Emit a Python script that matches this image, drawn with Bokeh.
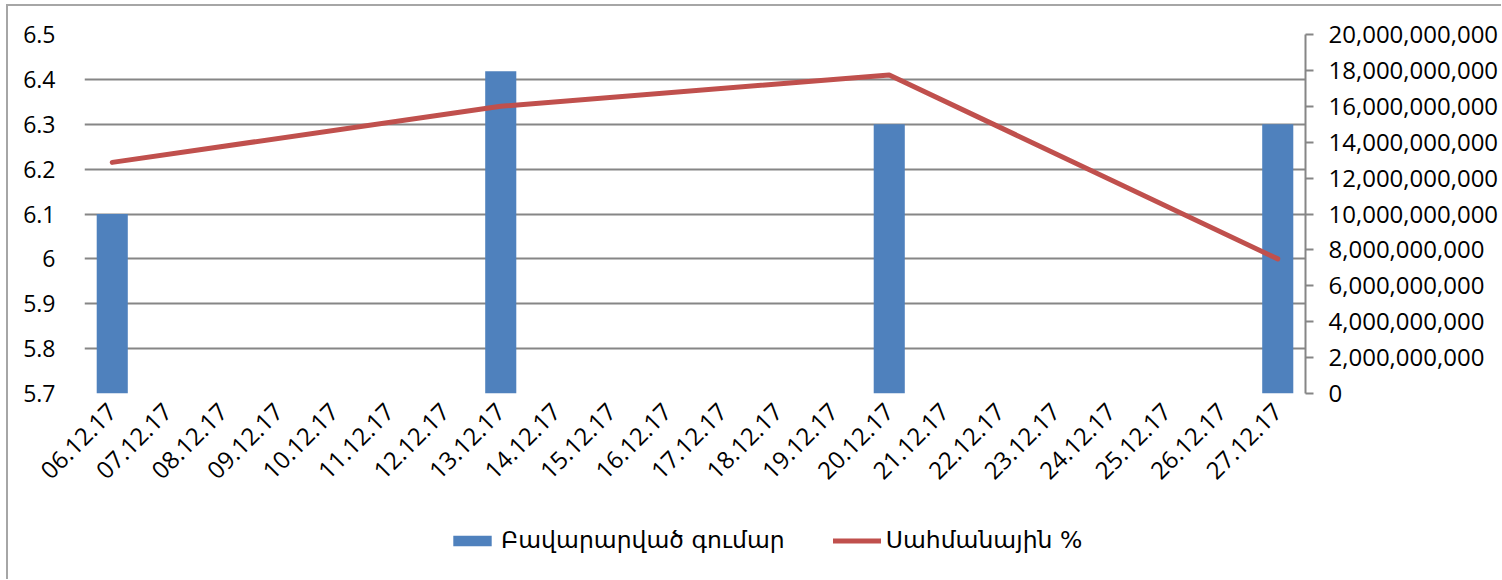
import math
from bokeh.plotting import figure
from bokeh.layouts import column
from bokeh.models import (FactorRange, Range1d, LinearAxis, FixedTicker,
                          NumeralTickFormatter, CustomJSTickFormatter,
                          ColumnDataSource, Legend, LegendItem)
from bokeh.embed import file_html
from bokeh.resources import INLINE

# ---- data ----
dates = ["06.12.17", "07.12.17", "08.12.17", "09.12.17", "10.12.17", "11.12.17",
         "12.12.17", "13.12.17", "14.12.17", "15.12.17", "16.12.17", "17.12.17",
         "18.12.17", "19.12.17", "20.12.17", "21.12.17", "22.12.17", "23.12.17",
         "24.12.17", "25.12.17", "26.12.17", "27.12.17"]
obs_dates = ["06.12.17", "13.12.17", "20.12.17", "27.12.17"]
amounts = [10.0e9, 17.95e9, 15.0e9, 15.0e9]          # Բավարարված գումար (right axis)
rates = [6.215, 6.34, 6.41, 6.0]                    # Սահմանային % (left axis)
left_ticks = [5.7, 5.8, 5.9, 6.0, 6.1, 6.2, 6.3, 6.4, 6.5]
right_ticks = [0, 2e9, 4e9, 6e9, 8e9, 10e9, 12e9, 14e9, 16e9, 18e9, 20e9]
bar_label = "Բավարարված գումար"
line_label = "Սահմանային %"

BLUE = "#4F81BD"
RED = "#C0504D"
GRID = "#868686"
FONT = "Open Sans"
W = 1493

xr = FactorRange(factors=dates)
p = figure(width=W, height=497, output_backend="svg", toolbar_location=None,
           x_range=xr, y_range=Range1d(5.7, 6.5),
           min_border_left=76, min_border_right=196, min_border_top=28,
           min_border_bottom=110)
p.extra_y_ranges = {"amt": Range1d(0, 20e9)}
p.outline_line_color = None
p.background_fill_color = "white"
p.border_fill_color = "white"

src = ColumnDataSource(dict(d=obs_dates, amt=amounts, rate=rates))

bars = p.vbar(x="d", top="amt", bottom=0, width=0.56, source=src,
              y_range_name="amt", fill_color=BLUE, line_color=None)
ln = p.line(x="d", y="rate", source=src, line_color=RED, line_width=5,
            line_cap="round", line_join="round")

# left axis
ya = p.yaxis[0]
ya.ticker = FixedTicker(ticks=left_ticks)
ya.formatter = CustomJSTickFormatter(code="return Number(tick.toFixed(1)).toString();")
ya.axis_line_color = None
ya.major_tick_line_color = None
ya.minor_tick_line_color = None
ya.major_label_text_font = FONT
ya.major_label_text_font_size = "23px"
ya.major_label_text_color = "black"
ya.major_label_standoff = 23

p.ygrid.ticker = FixedTicker(ticks=left_ticks)
p.ygrid.grid_line_color = GRID
p.ygrid.grid_line_width = 2
p.xgrid.grid_line_color = None

# right axis
ra = LinearAxis(y_range_name="amt", ticker=FixedTicker(ticks=right_ticks),
                formatter=NumeralTickFormatter(format="0,0"))
ra.axis_line_color = GRID
ra.axis_line_width = 2
ra.major_tick_line_color = GRID
ra.major_tick_line_width = 2
ra.major_tick_in = 0
ra.major_tick_out = 8
ra.minor_tick_line_color = None
ra.major_label_text_font = FONT
ra.major_label_text_font_size = "24px"
ra.major_label_text_color = "black"
ra.major_label_standoff = 15
p.add_layout(ra, "right")

# x axis
xa = p.xaxis[0]
xa.axis_line_color = None
xa.major_tick_line_color = None
xa.minor_tick_line_color = None
xa.major_label_orientation = math.pi / 4
xa.major_label_text_font = FONT
xa.major_label_text_font_size = "24px"
xa.major_label_text_color = "black"
xa.major_label_standoff = 8

# legend strip (separate figure so the legend is not clipped by the main frame);
# proxies use the same data but sit far outside this strip's visible y-range
p2 = figure(width=W, height=76, output_backend="svg", toolbar_location=None,
            x_range=xr, y_range=Range1d(-1e12, -0.9e12),
            x_axis_location=None, y_axis_location=None, min_border=0)
p2.outline_line_color = None
p2.grid.grid_line_color = None
p2.border_fill_color = "white"
p2.background_fill_color = "white"
lb = p2.vbar(x="d", top="amt", bottom=0, width=0.001, source=src,
             fill_color=BLUE, line_color=None)
ll = p2.line(x="d", y="rate", source=src, line_color=RED, line_width=5,
             line_cap="round")

legend = Legend(items=[LegendItem(label=bar_label, renderers=[lb]),
                       LegendItem(label=line_label, renderers=[ll])],
                orientation="horizontal", location=(364, 25),
                border_line_color=None, background_fill_alpha=0,
                glyph_width=48, glyph_height=13, spacing=48, label_standoff=5,
                padding=0, margin=0, label_text_font="DejaVu Sans",
                label_text_font_size="23.5px", label_text_color="black")
p2.add_layout(legend, "center")

lay = column(p, p2, spacing=0)
lay.styles = {"margin-left": "6px", "margin-top": "4px",
              "border-left": "2px solid #a6a6a6", "border-top": "2px solid #a6a6a6"}

open("out.html", "w").write(file_html(lay, INLINE))
